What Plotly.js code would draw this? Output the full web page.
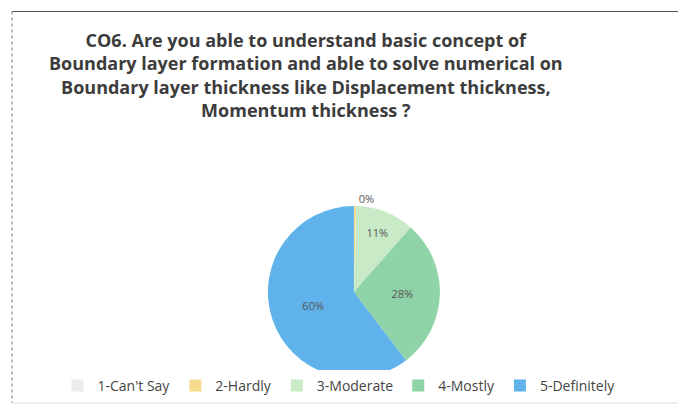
<!DOCTYPE html>
<html><head><meta charset="utf-8">
<script src="https://cdn.plot.ly/plotly-3.0.1.min.js"></script>
<style>html,body{margin:0;padding:0;background:#fff}</style>
</head><body><div id="chart" style="width:678px;height:408px"></div>
<script>
var categories = ["1-Can't Say", "2-Hardly", "3-Moderate", "4-Mostly", "5-Definitely"];
var values = [0, 0.4, 11, 28, 60];
var colors = ["#ececec", "#f6d98a", "#c9eac6", "#8fd3a8", "#5fb3ea"];
var textPositions = ["inside", "outside", "inside", "inside", "inside"];
var titleText = "CO6. Are you able to understand basic concept of<br>Boundary layer formation and able to solve numerical on<br>Boundary layer thickness like Displacement thickness,<br>Momentum thickness ?";

var trace = {
  type: "pie",
  labels: categories,
  values: values,
  sort: false,
  direction: "clockwise",
  rotation: 0,
  marker: {colors: colors, line: {width: 0}},
  texttemplate: "%{percent:.0%}",
  textposition: textPositions,
  insidetextorientation: "horizontal",
  textfont: {family: "Open Sans, sans-serif", size: 11, color: "#555"},
  hoverinfo: "label+percent",
  domain: {x: [0.395, 0.649], y: [0.0735, 0.495]},
  showlegend: true
};

var layout = {
  width: 678, height: 408,
  margin: {l: 0, r: 0, t: 0, b: 0},
  paper_bgcolor: "#ffffff",
  font: {family: "Open Sans, sans-serif", color: "#333"},
  annotations: [{
    text: titleText, xref: "paper", yref: "paper",
    x: 306 / 678, xanchor: "center", y: 1 - 74.5 / 408, yanchor: "middle",
    showarrow: false, align: "center",
    font: {family: "Open Sans, sans-serif", size: 18, color: "#3c3c3c", weight: "bold"}
  }],
  legend: {
    orientation: "h", x: 0.5, xanchor: "center", y: 1 - 386 / 408, yanchor: "middle",
    font: {family: "Open Sans, sans-serif", size: 14, color: "#444"},
    traceorder: "normal"
  },
  shapes: [
    {type: "line", xref: "paper", yref: "paper", x0: 12 / 678, x1: 1, y0: 1 - 11.5 / 408, y1: 1 - 11.5 / 408,
     line: {color: "#555", width: 1.2}},
    {type: "line", xref: "paper", yref: "paper", x0: 12 / 678, x1: 12 / 678, y0: 1 - 11.5 / 408, y1: 1 - 403 / 408,
     line: {color: "#777", width: 1, dash: "dot"}},
    {type: "line", xref: "paper", yref: "paper", x0: 12 / 678, x1: 1, y0: 1 - 403 / 408, y1: 1 - 403 / 408,
     line: {color: "#ddd", width: 1}}
  ]
};

Plotly.newPlot("chart", [trace], layout, {displayModeBar: false});
</script></body></html>
